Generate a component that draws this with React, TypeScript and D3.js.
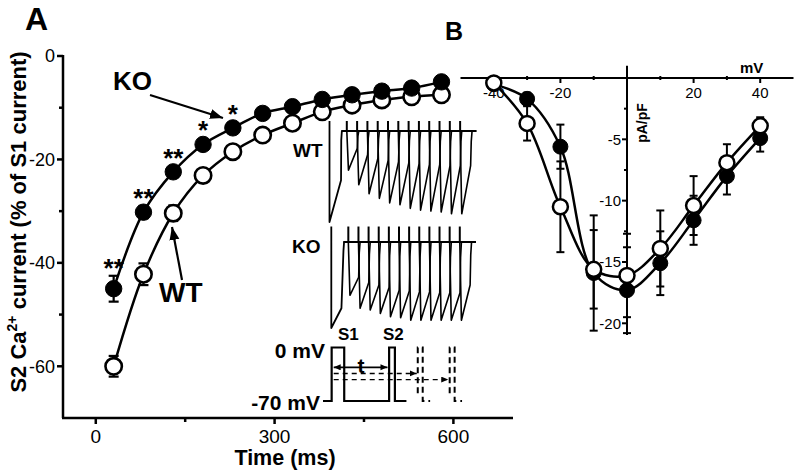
import React from "react";
import * as d3 from "d3";

// ---------- Panel A: recovery from inactivation ----------
const intervalMs = [30, 80, 130, 180, 230, 280, 330, 380, 430, 480, 530, 580];
const koS2 = [-45, -30.2, -22.4, -17.1, -13.9, -11.1, -9.8, -8.4, -7.5, -6.8, -6.2, -5.0];
const koS2Err = [2.5, 1.2, 1, 1, 1, 1, 1, 1, 1, 1, 1, 1];
const wtS2 = [-60, -42.2, -30.4, -23.1, -18.5, -15.3, -13.0, -10.8, -9.5, -8.5, -7.9, -7.5];
const wtS2Err = [2, 2.1, 1.5, 1, 1, 1, 1, 1, 1, 1, 1, 1];
const significance = ["**", "**", "**", "*", "*", "", "", "", "", "", "", ""];
const xTicksA = [0, 300, 600];
const xMinorA = [150, 450];
const yTicksA = [0, -20, -40, -60];
const yMinorA = [-10, -30, -50];

// Inset current traces (fraction of S1 peak current)
const wtTrough = [-0.43, -0.59, -0.69, -0.74, -0.79, -0.81, -0.85, -0.87, -0.88, -0.89, -0.91, -0.91];
const wtRecov = [-0.19, -0.26, -0.3, -0.32, -0.34, -0.35, -0.36, -0.37, -0.37, -0.38, -0.38, -0.38];
const koTrough = [-0.62, -0.77, -0.79, -0.83, -0.87, -0.88, -0.91, -0.91, -0.91, -0.91, -0.91, -0.91];
const koRecov = [-0.41, -0.47, -0.5, -0.53, -0.56, -0.57, -0.58, -0.58, -0.59, -0.59, -0.59, -0.5];
const wtS1Trace: [number, number][] = [[0, 0.11], [0, -1], [56, -0.54], [57, -0.1], [60, 0], [65, 0]];
const koS1Trace: [number, number][] = [[0, 0.18], [0, -1], [50, -0.77], [60, -0.1], [63, 0], [66, 0]];

// ---------- Panel B: I-V relationship ----------
const voltage = [-40, -30, -20, -10, 0, 10, 20, 30, 40];
const koIV = [-0.5, -1.7, -5.6, -15.9, -17.3, -15.1, -11.6, -8.0, -4.9];
const koIVErr = [0.3, 0.5, 1.8, 4.7, 3.5, 2.6, 2.0, 1.5, 1.1];
const wtIV = [-0.4, -3.7, -10.5, -15.6, -16.1, -13.9, -10.4, -6.9, -3.9];
const wtIVErr = [0.3, 1.4, 3.7, 3.2, 3.4, 3.1, 2.4, 1.5, 0.7];
const xTicksB = [-40, -20, 20, 40];
const xMinorB = [-30, -10, 10, 30];
const yTicksB = [-5, -10, -15, -20];
const yMinorB = [-2.5, -7.5, -12.5, -17.5];

const FONT = "'Liberation Sans', Arial, Helvetica, sans-serif";

export default function App() {
  // scales panel A
  const xA = d3.scaleLinear().domain([-55, 700]).range([63, 513]);
  const yA = d3.scaleLinear().domain([-70, 0]).range([418, 56]);
  const curve = d3.curveCatmullRom.alpha(0.5);
  const lineA = d3.line<[number, number]>().x(d => xA(d[0])).y(d => yA(d[1])).curve(curve);
  const koPts = intervalMs.map((t, i) => [t, koS2[i]] as [number, number]);
  const wtPts = intervalMs.map((t, i) => [t, wtS2[i]] as [number, number]);

  // scales panel B
  const xB = d3.scaleLinear().domain([-50, 50]).range([460.5, 793.5]);
  const yB = d3.scaleLinear().domain([-20, 0]).range([323.3, 78]);
  const lineB = d3.line<[number, number]>().x(d => xB(d[0])).y(d => yB(d[1])).curve(curve);
  const koIVPts = voltage.map((v, i) => [v, koIV[i]] as [number, number]);
  const wtIVPts = voltage.map((v, i) => [v, wtIV[i]] as [number, number]);

  // inset scales
  const wtTX = d3.scaleLinear().domain([0, 714]).range([329.5, 476.6]);
  const koTX = d3.scaleLinear().domain([0, 714]).range([331.3, 476.0]);
  const wtTY = d3.scaleLinear().domain([-1, 0]).range([222, 131]);
  const koTY = d3.scaleLinear().domain([-1, 0]).range([328, 242]);
  const onsets = intervalMs.map(t => t + 54);

  const traceGroup = (
    tx: d3.ScaleLinear<number, number>,
    ty: d3.ScaleLinear<number, number>,
    trough: number[],
    recov: number[],
    s1: [number, number][],
    spike: number
  ) => {
    const ln = d3.line<[number, number]>().x(d => tx(d[0])).y(d => ty(d[1]));
    return (
      <g fill="none" stroke="#000" strokeLinejoin="round">
        <line x1={tx(60)} x2={tx(714)} y1={ty(0)} y2={ty(0)} strokeWidth={2.2} />
        <path d={ln(s1) || ""} strokeWidth={1.8} />
        {onsets.map((t, i) => (
          <g key={i}>
            <line x1={tx(t)} x2={tx(t)} y1={ty(spike)} y2={ty(0)} strokeWidth={2} />
            <path
              d={
                ln([
                  [t, 0],
                  [t + 8, trough[i]],
                  [t + 51, recov[i]],
                  [t + 54, recov[i] * 0.3],
                  [t + 58, 0],
                ]) || ""
              }
              strokeWidth={1.6}
            />
          </g>
        ))}
      </g>
    );
  };

  // protocol schematic scales (ms, mV)
  const pX = d3.scaleLinear().domain([0, 750]).range([323, 477.5]);
  const pY = d3.scaleLinear().domain([-70, 0]).range([401, 347.5]);
  const protoSolid: [number, number][] = [
    [0, -70], [42, -70], [42, 0], [103, 0], [103, -70], [321, -70], [321, 0], [349, 0], [349, -70], [405, -70],
  ];
  const protoDash1: [number, number][] = [[460, -60], [460, 0], [484, 0], [484, -70], [520, -70]];
  const protoDash2: [number, number][] = [[615, -60], [615, 0], [639, 0], [639, -70], [675, -70]];
  const pLine = d3.line<[number, number]>().x(d => pX(d[0])).y(d => pY(d[1]));

  const errBar = (x: number, y0: number, y1: number, cap: number, key: string, sw: number) => (
    <g key={key} stroke="#000" strokeWidth={sw}>
      <line x1={x} x2={x} y1={y0} y2={y1} />
      <line x1={x - cap / 2} x2={x + cap / 2} y1={y0} y2={y0} />
      <line x1={x - cap / 2} x2={x + cap / 2} y1={y1} y2={y1} />
    </g>
  );

  return (
    <svg
      width={800}
      height={472}
      style={{ position: "absolute", left: 0, top: 0, background: "#fff" }}
      fontFamily={FONT}
    >
      <defs>
        <marker id="ah" markerUnits="userSpaceOnUse" markerWidth={14} markerHeight={12} refX={13} refY={5} orient="auto">
          <path d="M0,0 L13,5 L0,10 Z" fill="#000" />
        </marker>
        <marker id="ahs" markerUnits="userSpaceOnUse" markerWidth={8} markerHeight={8} refX={7} refY={3} orient="auto-start-reverse">
          <path d="M0,0 L7,3 L0,6 Z" fill="#000" />
        </marker>
      </defs>
      <rect width={800} height={472} fill="#fff" />

      {/* ================= Panel A ================= */}
      <text x={25} y={30} fontSize={32} fontWeight="bold">A</text>
      <g stroke="#000" strokeWidth={2.5}>
        <line x1={xA(-55)} x2={xA(-55)} y1={yA(0) - 1} y2={yA(-70)} />
        <line x1={xA(-55) - 1} x2={xA(700)} y1={yA(-70)} y2={yA(-70)} />
        {yTicksA.map(v => (
          <line key={v} x1={xA(-55) - 6} x2={xA(-55)} y1={yA(v)} y2={yA(v)} />
        ))}
        {yMinorA.map(v => (
          <line key={v} x1={xA(-55) - 4} x2={xA(-55)} y1={yA(v)} y2={yA(v)} />
        ))}
        {xTicksA.map(v => (
          <line key={v} x1={xA(v)} x2={xA(v)} y1={yA(-70)} y2={yA(-70) + 6} />
        ))}
        {xMinorA.map(v => (
          <line key={v} x1={xA(v)} x2={xA(v)} y1={yA(-70)} y2={yA(-70) + 4} />
        ))}
      </g>
      {yTicksA.map(v => (
        <text key={v} x={xA(-55) - 8} y={yA(v)} dy="0.36em" textAnchor="end" fontSize={18}>
          {v === 0 ? "0" : `-${Math.abs(v)}`}
        </text>
      ))}
      {xTicksA.map(v => (
        <text key={v} x={xA(v)} y={443} textAnchor="middle" fontSize={19}>{v}</text>
      ))}
      <text x={285} y={465} textAnchor="middle" fontSize={21.5} fontWeight="bold">Time (ms)</text>
      <text transform="translate(26,222) rotate(-90)" textAnchor="middle" fontSize={22} fontWeight="bold">
        S2 Ca<tspan dy={-9} fontSize={14}>2+</tspan>
        <tspan dy={9}> current (% of S1 current)</tspan>
      </text>

      {/* curves */}
      <path d={lineA(wtPts) || ""} fill="none" stroke="#000" strokeWidth={2.5} />
      <path d={lineA(koPts) || ""} fill="none" stroke="#000" strokeWidth={2.5} />
      {/* error bars */}
      {intervalMs.map((t, i) => errBar(xA(t), yA(wtS2[i] + wtS2Err[i]), yA(wtS2[i] - wtS2Err[i]), 10, "we" + i, 2.2))}
      {intervalMs.map((t, i) => errBar(xA(t), yA(koS2[i] + koS2Err[i]), yA(koS2[i] - koS2Err[i]), 10, "ke" + i, 2.2))}
      {/* points */}
      {wtPts.map((d, i) => (
        <circle key={"w" + i} cx={xA(d[0])} cy={yA(d[1])} r={8.2} fill="#fff" stroke="#000" strokeWidth={2.6} />
      ))}
      {koPts.map((d, i) => (
        <circle key={"k" + i} cx={xA(d[0])} cy={yA(d[1])} r={8.2} fill="#000" stroke="#000" strokeWidth={1} />
      ))}
      {/* significance */}
      {significance.map((s, i) =>
        s ? (
          <text
            key={"s" + i}
            x={xA(intervalMs[i])}
            y={yA(koS2[i]) - Math.max(9, (yA(koS2[i] - koS2Err[i]) - yA(koS2[i])) + 3) + 4}
            textAnchor="middle"
            fontSize={26}
            fontWeight="bold"
          >
            {s}
          </text>
        ) : null
      )}
      {/* KO / WT annotations */}
      <text x={113} y={90} fontSize={26} fontWeight="bold">KO</text>
      <line x1={150} y1={95} x2={223} y2={118} stroke="#000" strokeWidth={2.2} markerEnd="url(#ah)" />
      <text x={159} y={302} fontSize={28} fontWeight="bold">WT</text>
      <line x1={182} y1={280} x2={172} y2={227} stroke="#000" strokeWidth={2.2} markerEnd="url(#ah)" />

      {/* inset traces */}
      <text x={293} y={157} fontSize={19} fontWeight="bold">WT</text>
      <text x={292} y={253} fontSize={19} fontWeight="bold">KO</text>
      {traceGroup(wtTX, wtTY, wtTrough, wtRecov, wtS1Trace, 0.11)}
      {traceGroup(koTX, koTY, koTrough, koRecov, koS1Trace, 0.18)}

      {/* protocol */}
      <text x={325} y={358} textAnchor="end" fontSize={21} fontWeight="bold">0 mV</text>
      <text x={320} y={410} textAnchor="end" fontSize={21} fontWeight="bold">-70 mV</text>
      <text x={338} y={340} fontSize={17} fontWeight="bold">S1</text>
      <text x={383} y={340} fontSize={17} fontWeight="bold">S2</text>
      <text x={361} y={373} textAnchor="middle" fontSize={21} fontWeight="bold">t</text>
      <path d={pLine(protoSolid) || ""} fill="none" stroke="#000" strokeWidth={2.2} />
      <path d={pLine(protoDash1) || ""} fill="none" stroke="#000" strokeWidth={2} strokeDasharray="6,4" />
      <path d={pLine(protoDash2) || ""} fill="none" stroke="#000" strokeWidth={2} strokeDasharray="6,4" />
      <line x1={pX(52)} x2={pX(313)} y1={pY(-26)} y2={pY(-26)} stroke="#000" strokeWidth={1.6}
        markerStart="url(#ahs)" markerEnd="url(#ahs)" />
      <line x1={pX(52)} x2={pX(455)} y1={pY(-34)} y2={pY(-34)} stroke="#000" strokeWidth={1.4}
        strokeDasharray="5,4" markerEnd="url(#ahs)" />
      <line x1={pX(52)} x2={pX(608)} y1={pY(-42)} y2={pY(-42)} stroke="#000" strokeWidth={1.4}
        strokeDasharray="5,4" markerEnd="url(#ahs)" />

      {/* ================= Panel B ================= */}
      <text x={445} y={40} fontSize={25} fontWeight="bold">B</text>
      <g stroke="#000" strokeWidth={2}>
        <line x1={xB(-50)} x2={xB(50)} y1={yB(0)} y2={yB(0)} />
        <line x1={xB(0)} x2={xB(0)} y1={yB(1)} y2={yB(-20.95)} />
        {xTicksB.map(v => (
          <line key={v} x1={xB(v)} x2={xB(v)} y1={yB(0)} y2={yB(0) + 5} />
        ))}
        {xMinorB.map(v => (
          <line key={v} x1={xB(v)} x2={xB(v)} y1={yB(0) - 2} y2={yB(0) + 2} />
        ))}
        {yTicksB.map(v => (
          <line key={v} x1={xB(0) - 5} x2={xB(0)} y1={yB(v)} y2={yB(v)} />
        ))}
        {yMinorB.map(v => (
          <line key={v} x1={xB(0) - 3} x2={xB(0)} y1={yB(v)} y2={yB(v)} />
        ))}
      </g>
      {xTicksB.map(v => (
        <text key={v} x={xB(v)} y={98} textAnchor="middle" fontSize={15}>
          {v < 0 ? `-${Math.abs(v)}` : v}
        </text>
      ))}
      {yTicksB.map(v => (
        <text key={v} x={xB(0) - 6} y={yB(v)} dy="0.36em" textAnchor="end" fontSize={15}>
          {`-${Math.abs(v)}`}
        </text>
      ))}
      <text x={740} y={73} fontSize={15} fontWeight="bold">mV</text>
      <text transform="translate(647,123) rotate(-90)" textAnchor="middle" fontSize={14} fontWeight="bold">pA/pF</text>

      <path d={lineB(koIVPts) || ""} fill="none" stroke="#000" strokeWidth={2.5} />
      <path d={lineB(wtIVPts) || ""} fill="none" stroke="#000" strokeWidth={2.5} />
      {voltage.map((v, i) => errBar(xB(v), yB(koIV[i] + koIVErr[i]), yB(koIV[i] - koIVErr[i]), 8, "kb" + i, 2))}
      {voltage.map((v, i) => errBar(xB(v), yB(wtIV[i] + wtIVErr[i]), yB(wtIV[i] - wtIVErr[i]), 8, "wb" + i, 2))}
      {koIVPts.map((d, i) => (
        <circle key={"kb" + i} cx={xB(d[0])} cy={yB(d[1])} r={7.5} fill="#000" stroke="#000" strokeWidth={1} />
      ))}
      {wtIVPts.map((d, i) => (
        <circle key={"wb" + i} cx={xB(d[0])} cy={yB(d[1])} r={7.5} fill="#fff" stroke="#000" strokeWidth={2.5} />
      ))}
    </svg>
  );
}
